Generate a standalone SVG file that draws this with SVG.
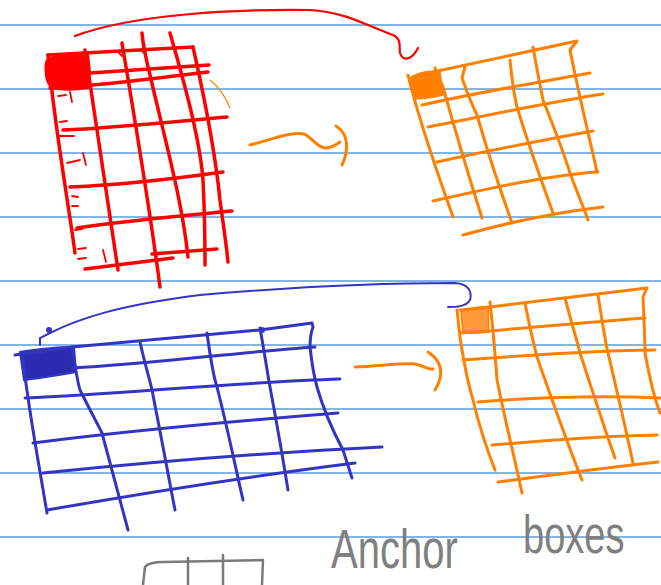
<svg xmlns="http://www.w3.org/2000/svg" width="661" height="585" viewBox="0 0 661 585">
<style>
.rule{stroke:#5b9bd8;stroke-width:1.3}
.r{fill:none;stroke:#ff0000;stroke-width:3.5;stroke-linecap:round;stroke-linejoin:round}
.rt{fill:none;stroke:#ff0000;stroke-width:1.8;stroke-linecap:round}
.o{fill:none;stroke:#ff8000;stroke-width:3;stroke-linecap:round;stroke-linejoin:round}
.b{fill:none;stroke:#3434c4;stroke-width:3;stroke-linecap:round;stroke-linejoin:round}
.g{fill:none;stroke:#7a7a7a;stroke-width:2.5;stroke-linecap:round;stroke-linejoin:round}
.lbl{font-family:"Liberation Sans",Arial,sans-serif;fill:#7f7f7f;font-weight:300}
</style>
<rect width="661" height="585" fill="#ffffff"/>
<g id="ruled-lines">
<line class="rule" x1="0" y1="25" x2="661" y2="25"/>
<line class="rule" x1="0" y1="89" x2="661" y2="89"/>
<line class="rule" x1="0" y1="153" x2="661" y2="153"/>
<line class="rule" x1="0" y1="217" x2="661" y2="217"/>
<line class="rule" x1="0" y1="281" x2="661" y2="281"/>
<line class="rule" x1="0" y1="345" x2="661" y2="345"/>
<line class="rule" x1="0" y1="409" x2="661" y2="409"/>
<line class="rule" x1="0" y1="473" x2="661" y2="473"/>
<line class="rule" x1="0" y1="537" x2="661" y2="537"/>
</g>
<g id="red-grid">
<path d="M46,62 C48,58 52,55 88,53 L90,72 L88,88 C70,91 55,90 50,86 C45,80 45,68 46,62 Z" fill="#ff0000" stroke="#ff0000" stroke-width="2"/>
<path class="r" d="M48,55 L193,47"/>
<path class="r" d="M48,55 C55,130 68,200 75,253"/>
<path class="r" d="M85,50 C95,120 108,200 118,270"/>
<path class="r" d="M122,43 C135,120 150,210 160,287"/>
<path class="r" d="M142,33 C143,45 145,55 150,75 C165,140 182,200 188,257"/>
<path class="r" d="M170,33 C185,85 200,140 203,180 C205,220 205,250 205,265"/>
<path class="r" d="M193,47 C205,100 215,150 220,200 C224,230 227,250 228,262"/>
<path class="r" d="M90,73 L209,65"/>
<path class="r" d="M50,88 C80,88 140,80 208,72"/>
<path class="r" d="M63,130 C110,128 170,122 227,117"/>
<path class="r" d="M70,187 C120,185 180,178 223,172"/>
<path class="r" d="M77,228 C130,220 190,215 232,211"/>
<path class="r" d="M152,254 L217,249"/>
<path class="r" d="M85,269 L173,258"/>
<path class="rt" d="M58,96 L66,95 M70,92 L72,102 M60,122 L67,121 M58,136 L74,136 M67,163 L80,160 M83,153 L86,165 M72,196 L78,197 M72,206 L78,206 M75,230 L82,229 M78,249 L86,248 M78,259 L86,258 M103,250 L106,262 M118,52 L122,56 M140,50 L146,54"/>
<path d="M210,80 C220,88 226,98 230,108" fill="none" stroke="#ff8000" stroke-width="1.2"/>
</g>
<g id="orange-grid-top">
<path d="M410,78 C418,72 432,70 440,72 L443,95 C430,98 418,100 414,98 Z" fill="#ff8000" stroke="#ff8000" stroke-width="1.5"/>
<path class="o" d="M433,72 L577,41 L570,50 C580,100 590,140 597,172"/>
<path class="o" d="M408,75 C420,125 440,180 453,217"/>
<path class="o" d="M435,68 L443,87 C455,130 470,180 482,218"/>
<path class="o" d="M465,67 L462,78 C468,95 472,105 477,115 C490,160 502,195 512,223"/>
<path class="o" d="M510,60 C512,80 514,95 517,107 C530,150 543,185 553,213"/>
<path class="o" d="M533,47 C537,70 540,85 543,100 C555,130 563,150 570,173 C578,195 584,208 588,220"/>
<path class="o" d="M422,105 C480,92 540,82 590,73"/>
<path class="o" d="M428,127 C490,115 550,102 603,94"/>
<path class="o" d="M437,162 C500,148 555,138 593,131"/>
<path class="o" d="M433,201 C490,188 550,175 598,172"/>
<path class="o" d="M463,235 C510,222 560,212 603,207"/>
</g>
<g id="blue-grid">
<path d="M20,352 C35,349 60,347 74,347 L76,372 C60,375 40,378 24,380 Z" fill="#2b2bb0" stroke="#3434c4" stroke-width="2"/>
<path class="b" d="M15,355 L72,347 L260,330 L312,323 L313,327 C310,335 310,345 310,347 C312,365 315,380 317,387 C325,415 335,435 343,450 L352,478"/>
<path class="b" d="M22,353 C30,420 40,470 47,513"/>
<path class="b" d="M47,510 C150,492 260,475 355,463" stroke-width="3.8"/>
<path class="b" d="M72,347 C75,365 77,380 80,390 C90,410 98,425 102,433 C112,470 120,500 128,530"/>
<path class="b" d="M140,342 C145,365 150,380 152,390 C160,430 168,475 175,510"/>
<path class="b" d="M207,333 C210,355 213,375 217,387 C228,430 236,470 243,500"/>
<path class="b" d="M260,328 C264,350 267,370 270,387 C278,430 284,465 288,490"/>
<path class="b" d="M72,368 C150,364 240,352 315,347"/>
<path class="b" d="M25,398 C120,394 240,382 340,379"/>
<path class="b" d="M33,443 C120,432 250,420 338,413"/>
<path class="b" d="M43,473 C150,462 280,452 382,447"/>
<circle cx="262" cy="330" r="3" fill="#3434c4"/>
</g>
<g id="orange-grid-bottom">
<path d="M461,312 C470,308 482,306 488,307 L489,332 C478,333 468,334 463,333 Z" fill="#ff9a3a" stroke="#ff8000" stroke-width="1.5"/>
<path class="o" d="M460,310 L490,307 L647,288 L643,297 C644,320 645,340 645,353 C650,380 655,400 660,413"/>
<path class="o" d="M457,310 L460,337 C465,370 470,390 473,400 C480,430 488,452 495,470"/>
<path class="o" d="M490,302 C494,340 496,365 497,380 C505,420 515,460 522,493"/>
<path class="o" d="M525,303 C530,330 534,345 537,357 C552,400 570,450 582,480"/>
<path class="o" d="M565,298 C572,325 577,340 580,353 C592,390 605,430 615,458"/>
<path class="o" d="M598,295 C602,320 605,340 608,353 C618,395 627,435 633,463"/>
<path class="o" d="M460,333 C530,328 590,322 645,318"/>
<path class="o" d="M463,360 C530,355 600,350 655,350"/>
<path class="o" d="M478,402 C540,397 600,395 660,398"/>
<path class="o" d="M492,445 C550,440 610,436 657,435"/>
<path class="o" d="M498,482 C560,474 620,466 658,462"/>
</g>
<g id="connectors">
<path d="M75,36 C130,15 230,9 310,10 C345,12 365,25 393,35 C402,39 399,47 400,53 C403,62 412,60 418,48" fill="none" stroke="#ff0000" stroke-width="2.2" stroke-linecap="round"/>
<path d="M40,345 L40,338 L50,333 C80,318 120,305 200,295 C280,288 380,283 455,283 C470,284 472,293 470,300 C466,307 455,307 448,307" fill="none" stroke="#3434c4" stroke-width="2" stroke-linecap="round"/>
<circle cx="49" cy="330" r="3" fill="#3434c4"/>
<path class="o" d="M250,145 C270,140 292,131 304,134 C312,137 316,147 325,148 C332,148 336,145 340,142"/>
<path class="o" d="M336,126 C349,134 349,150 342,165"/>
<path class="o" d="M355,367 C380,366 400,363 415,364 C425,366 428,370 433,369"/>
<path class="o" d="M428,352 C440,360 446,372 435,390"/>
</g>
<g id="sketch-box">
<path class="g" d="M143,585 L145,567 C148,563 155,562 163,562 L263,560 L262,585"/>
<path class="g" d="M188,558 L188,585 M223,555 L223,585"/>
</g>
<g id="label">
<text class="lbl" font-size="40" transform="translate(331,568) scale(1,1.4)">Anchor</text>
<text class="lbl" font-size="38" transform="translate(523,553) scale(1,1.4)">boxes</text>
</g>
</svg>
